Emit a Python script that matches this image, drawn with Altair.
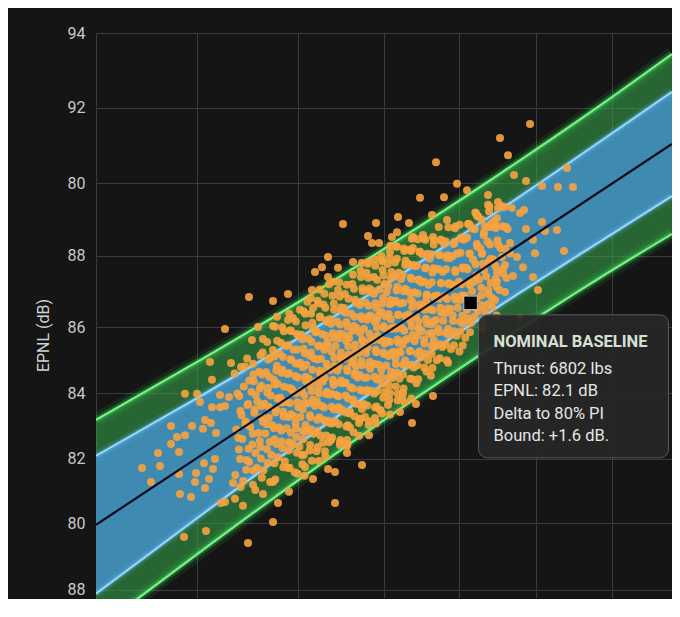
import altair as alt
import pandas as pd

# ---------------- axis texts / grid ----------------
y_tick_values = [94.0, 91.86, 89.71, 87.63, 85.6, 83.71, 81.83, 80.0, 78.09]
y_tick_labels = ["94", "92", "80", "88", "86", "84", "82", "80", "88"]
x_grid_values = [4180, 4887, 5594, 6196, 6721, 7260, 7792]
y_title = "EPNL (dB)"

# ---------------- prediction bands (dB) ----------------
band_thrust = [4180, 4908, 5608, 6308, 7008, 7708, 8212]
green_lo = [76.95, 79.17, 81.26, 83.26, 85.18, 87.01, 88.26]
blue_lo = [77.98, 80.20, 82.29, 84.29, 86.21, 88.04, 89.34]
blue_hi = [81.92, 83.62, 85.31, 87.09, 88.95, 90.90, 92.32]
green_hi = [82.95, 84.65, 86.34, 88.12, 89.98, 91.93, 93.40]

fit_thrust = [4180, 8212]
fit_epnl = [79.95, 90.83]

baseline_thrust = [6802]
baseline_epnl = [86.29]
tooltip_title = "NOMINAL BASELINE"
tooltip_lines = ["Thrust: 6802 lbs", "EPNL: 82.1 dB", "Delta to 80% PI", "Bound: +1.6 dB."]

# ---------------- scatter (thrust lbs, EPNL dB) ----------------
left_points = [
    (4565, 81.17), (4614, 82.0), (4628, 81.63), (4705, 82.77), (4761, 82.03), (4768, 80.83),
    (4845, 80.74), (4796, 79.6), (4950, 79.77), (4705, 82.26), (4747, 82.46), (4803, 82.51),
    (4852, 82.77), (4908, 83.46), (4929, 82.69), (4985, 82.86), (5020, 82.57), (4992, 83.31),
    (5048, 83.31), (4936, 81.71), (4999, 81.54), (4880, 81.43), (4873, 81.17), (4943, 81.0),
    (4971, 81.26), (5013, 81.83), (4761, 81.4), (5083, 80.6), (5153, 80.69), (5209, 80.49),
    (5139, 81.14), (5279, 81.09), (5349, 80.83), (5419, 81.17), (5454, 80.57), (5419, 80.03),
    (5244, 79.43), (5055, 80.57), (4803, 83.69), (4887, 83.69), (4992, 84.09), (4978, 84.6),
    (5125, 84.57), (5195, 84.46), (5272, 85.23), (5314, 85.6), (5349, 85.26), (5419, 85.63),
    (5447, 85.89), (5524, 85.8), (5083, 85.54), (5251, 86.46), (5419, 86.34), (5524, 86.54),
    (5111, 83.6), (5048, 83.66), (5083, 83.34), (4943, 82.94), (4502, 81.57),
]
lower_points = [
    (6042, 81.66), (5804, 81.54), (5853, 81.46), (5699, 81.26), (5531, 80.89), (5853, 80.57),
    (5937, 82.0), (5888, 82.23), (6091, 82.51), (6021, 82.49), (6308, 83.17), (6392, 82.86),
    (6420, 83.4), (6539, 83.63), (5538, 82.29), (5622, 81.94), (5524, 81.57), (5643, 81.6),
    (5769, 82.29), (5811, 82.31), (5937, 82.37), (6021, 82.86), (6063, 83.03), (6133, 83.0),
    (6168, 83.23), (6224, 83.37), (6238, 83.71), (6329, 83.71), (6042, 83.26), (5958, 83.17),
    (5818, 82.86), (5657, 82.66),
]
upper_points = [
    (5909, 88.54), (6140, 88.57), (6084, 88.2), (6112, 88.0), (6161, 88.0), (6294, 88.74),
    (6371, 88.57), (6287, 88.31), (6252, 88.17), (6532, 88.8), (6448, 89.29), (6616, 89.31),
    (6560, 90.31), (6707, 89.69), (6777, 89.51), (7008, 91.0), (7218, 91.4), (7064, 90.51),
    (7106, 89.94), (7190, 89.77), (7302, 89.63), (7414, 89.6), (7519, 89.6), (7477, 90.14),
    (6924, 88.46), (7176, 88.94), (5713, 87.17), (5762, 87.31), (5804, 87.6), (5874, 87.29),
    (5979, 87.46), (5692, 86.66), (5608, 86.09), (5559, 85.86), (5699, 86.14), (5804, 87.03),
    (6084, 87.46), (6182, 87.51), (6238, 87.74), (6399, 87.86), (6469, 88.23), (6539, 88.17),
    (6399, 88.17), (6637, 88.66),
]
right_points = [
    (6924, 89.37), (6994, 89.17), (6924, 89.09), (7148, 88.86), (6847, 88.77), (6987, 88.71),
    (6798, 88.51), (6903, 88.48), (6980, 88.43), (7050, 88.46), (7190, 88.4), (7302, 88.6),
    (7407, 88.37), (7323, 88.34), (7239, 88.09), (7078, 88.0), (6882, 87.69), (7022, 87.6),
    (7127, 87.6), (7253, 87.71), (7456, 87.77), (7169, 87.31), (7043, 87.37), (6987, 87.17),
    (7099, 87.06), (7239, 87.03), (7274, 86.66), (6987, 86.89), (6924, 86.66), (7043, 86.6),
    (6973, 86.37), (6952, 86.17), (7148, 85.86),
]
core_points = [
    (5155, 81.37), (5180, 82.10), (5162, 82.67), (5190, 83.20), (5170, 83.70), (5150, 84.27),
    (5210, 81.20), (5235, 81.80), (5204, 82.40), (5228, 82.90), (5245, 83.40), (5215, 83.90), (5238, 84.70),
    (5252, 81.74), (5275, 82.24), (5260, 82.74), (5290, 83.24), (5268, 83.74), (5282, 84.24), (5295, 80.94),
    (5305, 81.57), (5330, 82.17), (5318, 82.57), (5342, 83.02), (5310, 83.47), (5336, 83.92), (5322, 84.32), (5347, 84.87),
    (5352, 81.51), (5377, 82.11), (5365, 82.56), (5390, 83.01), (5358, 83.41), (5384, 83.86), (5371, 84.31), (5396, 84.71),
    (5408, 81.94), (5430, 82.39), (5415, 82.79), (5440, 83.24), (5402, 83.64), (5425, 84.09), (5446, 84.49), (5418, 84.94), (5435, 81.24),
    (5455, 81.88), (5478, 82.33), (5462, 82.73), (5490, 83.18), (5470, 83.58), (5452, 83.98), (5484, 84.38), (5466, 84.83), (5495, 85.48),
    (5502, 81.76), (5530, 82.31), (5515, 82.71), (5545, 83.11), (5508, 83.46), (5536, 83.86), (5520, 84.26), (5548, 84.66), (5511, 85.06), (5540, 85.51),
    (5558, 82.25), (5580, 82.70), (5566, 83.05), (5592, 83.45), (5552, 83.80), (5575, 84.20), (5597, 84.55), (5563, 84.95), (5586, 85.40), (5570, 81.45),
    (5604, 82.18), (5628, 82.63), (5612, 83.03), (5640, 83.43), (5620, 83.78), (5647, 84.18), (5608, 84.58), (5633, 84.98), (5616, 85.38), (5644, 85.98), (5625, 81.68),
    (5655, 82.62), (5680, 83.02), (5662, 83.42), (5690, 83.77), (5670, 84.12), (5652, 84.52), (5685, 84.87), (5667, 85.27), (5695, 85.72), (5675, 82.07), (5660, 86.32),
    (5703, 82.55), (5728, 82.95), (5712, 83.35), (5740, 83.70), (5720, 84.05), (5745, 84.35), (5708, 84.70), (5735, 85.05), (5716, 85.45), (5748, 85.90), (5724, 82.05), (5731, 86.35),
    (5752, 82.49), (5776, 82.94), (5760, 83.34), (5790, 83.69), (5768, 84.04), (5796, 84.39), (5755, 84.69), (5782, 85.04), (5764, 85.39), (5793, 85.79), (5772, 86.24), (5786, 81.89),
    (5806, 82.92), (5830, 83.32), (5814, 83.67), (5842, 84.02), (5822, 84.37), (5848, 84.72), (5803, 85.07), (5836, 85.42), (5818, 85.82), (5845, 86.27), (5826, 82.37), (5811, 86.82),
    (5853, 82.91), (5878, 83.31), (5861, 83.66), (5892, 84.01), (5870, 84.36), (5897, 84.71), (5856, 85.06), (5884, 85.41), (5866, 85.76), (5895, 86.16), (5874, 86.66), (5888, 82.31),
    (5902, 83.24), (5927, 83.64), (5910, 83.99), (5940, 84.34), (5918, 84.69), (5946, 85.04), (5906, 85.39), (5933, 85.74), (5915, 86.14), (5943, 82.79), (5922, 86.54), (5937, 82.19),
    (5955, 83.13), (5980, 83.53), (5962, 83.88), (5990, 84.23), (5970, 84.58), (5996, 84.93), (5952, 85.28), (5985, 85.63), (5966, 85.98), (5993, 86.38), (5974, 86.83), (5958, 82.73),
    (6004, 83.41), (6028, 83.81), (6012, 84.16), (6042, 84.51), (6020, 84.86), (6047, 85.21), (6008, 85.56), (6035, 85.91), (6016, 86.31), (6045, 86.71), (6024, 82.96), (6032, 87.21),
    (6053, 83.40), (6078, 83.80), (6061, 84.15), (6091, 84.50), (6070, 84.85), (6097, 85.20), (6056, 85.55), (6084, 85.90), (6066, 86.30), (6094, 86.70), (6074, 87.15), (6088, 82.80),
    (6105, 83.78), (6129, 84.18), (6112, 84.53), (6142, 84.88), (6121, 85.23), (6147, 85.58), (6102, 85.93), (6136, 86.28), (6118, 86.63), (6144, 83.33), (6125, 87.03), (6132, 87.53),
    (6152, 83.77), (6177, 84.17), (6160, 84.52), (6190, 84.87), (6168, 85.22), (6196, 85.57), (6155, 85.92), (6183, 86.27), (6164, 86.67), (6193, 87.07), (6172, 83.22), (6186, 87.47),
    (6204, 83.75), (6228, 84.15), (6211, 84.50), (6241, 84.85), (6220, 85.20), (6247, 85.55), (6207, 85.90), (6234, 86.25), (6216, 86.60), (6244, 87.00), (6223, 87.40), (6238, 83.10),
    (6253, 84.14), (6279, 84.54), (6261, 84.89), (6290, 85.24), (6269, 85.59), (6296, 85.94), (6256, 86.29), (6284, 86.64), (6265, 87.04), (6293, 83.69), (6273, 87.44), (6287, 87.89),
    (6304, 84.12), (6329, 84.52), (6312, 84.87), (6341, 85.22), (6320, 85.57), (6347, 85.92), (6308, 86.27), (6335, 86.62), (6316, 86.97), (6344, 87.37), (6324, 83.57), (6338, 87.77),
    (6352, 84.51), (6378, 84.91), (6360, 85.26), (6391, 85.61), (6369, 85.96), (6396, 86.31), (6356, 86.66), (6383, 87.01), (6365, 87.41), (6393, 84.11), (6373, 87.81), (6387, 83.56),
    (6404, 84.44), (6428, 84.84), (6411, 85.19), (6441, 85.54), (6420, 85.89), (6447, 86.24), (6407, 86.59), (6434, 86.94), (6416, 87.34), (6444, 87.74), (6423, 83.99),
    (6453, 84.73), (6479, 85.13), (6461, 85.48), (6490, 85.83), (6469, 86.18), (6496, 86.53), (6456, 86.88), (6484, 87.28), (6465, 87.68), (6493, 84.33), (6473, 88.13),
    (6504, 84.66), (6529, 85.06), (6512, 85.41), (6541, 85.76), (6520, 86.11), (6547, 86.46), (6508, 86.81), (6535, 87.16), (6516, 87.56), (6544, 87.96), (6524, 84.21),
    (6552, 85.05), (6578, 85.45), (6560, 85.80), (6591, 86.15), (6569, 86.50), (6596, 86.85), (6556, 87.25), (6583, 87.65), (6565, 84.65), (6593, 88.10),
    (6604, 85.03), (6628, 85.43), (6611, 85.78), (6641, 86.13), (6620, 86.48), (6647, 86.83), (6607, 87.18), (6634, 87.58), (6616, 87.98), (6644, 84.58),
    (6653, 85.37), (6679, 85.77), (6661, 86.12), (6690, 86.47), (6669, 86.82), (6696, 87.17), (6656, 87.57), (6684, 87.97), (6665, 84.97), (6693, 88.42),
    (6704, 85.35), (6729, 85.75), (6712, 86.15), (6741, 86.50), (6720, 86.90), (6747, 87.30), (6708, 87.70), (6735, 88.15), (6724, 84.90),
    (6753, 85.69), (6778, 86.09), (6761, 86.49), (6790, 86.89), (6769, 87.29), (6796, 87.69), (6756, 88.09), (6784, 88.54), (6765, 85.29),
    (6806, 85.72), (6829, 86.17), (6812, 86.62), (6841, 87.07), (6820, 87.52), (6846, 87.97), (6815, 88.42), (6835, 88.87),
    (6853, 86.06), (6878, 86.51), (6861, 86.96), (6890, 87.41), (6869, 87.86), (6896, 88.31), (6856, 88.76), (6884, 85.56),
    (6904, 86.04), (6928, 86.54), (6911, 87.04), (6941, 87.54), (6920, 88.04), (6946, 88.54), (6934, 89.04),
    (6953, 86.43), (6978, 86.98), (6961, 87.53), (6990, 88.08), (6969, 88.63), (6985, 85.93),
    (7004, 86.66), (7029, 87.26), (7012, 87.86), (7041, 88.46), (7020, 89.06),
    (7053, 87.00), (7078, 87.70), (7061, 88.40), (7090, 89.00),
]
core_points_b = [
    (5188, 81.83), (5176, 82.43), (5199, 83.08), (5183, 83.63), (5192, 81.03),
    (5231, 81.52), (5248, 82.12), (5226, 82.82), (5240, 83.37), (5253, 84.07), (5222, 84.47),
    (5281, 81.50), (5296, 82.00), (5277, 82.55), (5288, 83.15), (5299, 83.65), (5284, 84.05), (5279, 84.55),
    (5334, 81.84), (5327, 82.34), (5349, 82.89), (5338, 83.34), (5326, 83.84), (5344, 84.24), (5331, 84.79), (5341, 81.29),
    (5381, 81.72), (5397, 82.32), (5376, 82.82), (5389, 83.32), (5379, 83.72), (5394, 84.17), (5386, 84.67), (5378, 85.17), (5399, 81.17),
    (5429, 81.71), (5444, 82.26), (5426, 82.71), (5437, 83.16), (5449, 83.56), (5431, 83.96), (5442, 84.36), (5427, 84.76), (5448, 85.21), (5433, 85.61),
    (5486, 82.14), (5477, 82.64), (5493, 83.04), (5481, 83.44), (5497, 83.89), (5479, 84.29), (5489, 84.74), (5476, 85.14), (5491, 81.59), (5483, 85.59),
    (5529, 82.08), (5544, 82.58), (5527, 83.03), (5538, 83.43), (5549, 83.83), (5531, 84.28), (5542, 84.68), (5526, 85.08), (5547, 85.48), (5535, 81.58), (5533, 85.98),
    (5583, 82.46), (5577, 82.86), (5596, 83.31), (5581, 83.71), (5594, 84.16), (5578, 84.56), (5589, 84.96), (5598, 85.36), (5585, 82.01), (5579, 85.76), (5591, 81.41),
    (5631, 82.40), (5646, 82.80), (5627, 83.25), (5638, 83.65), (5649, 84.05), (5629, 84.45), (5642, 84.85), (5626, 85.25), (5647, 85.65), (5635, 81.95), (5633, 86.05), (5640, 81.35),
    (5684, 82.68), (5677, 83.08), (5696, 83.53), (5681, 83.93), (5694, 84.38), (5678, 84.78), (5689, 85.18), (5698, 85.58), (5686, 85.98), (5679, 82.23), (5691, 81.78), (5683, 86.43),
    (5729, 82.62), (5744, 83.02), (5727, 83.47), (5738, 83.87), (5749, 84.27), (5731, 84.67), (5742, 85.07), (5726, 85.47), (5747, 85.87), (5735, 86.27), (5733, 82.17), (5740, 81.77), (5746, 86.67),
    (5784, 82.90), (5777, 83.30), (5796, 83.75), (5781, 84.15), (5794, 84.55), (5778, 84.95), (5789, 85.35), (5798, 85.75), (5786, 86.15), (5779, 86.55), (5791, 82.50), (5783, 82.05), (5799, 85.15),
    (5831, 82.84), (5846, 83.24), (5827, 83.69), (5838, 84.09), (5849, 84.49), (5829, 84.89), (5842, 85.29), (5826, 85.69), (5847, 86.09), (5835, 86.49), (5833, 82.44), (5840, 86.89), (5844, 83.94),
    (5884, 83.22), (5877, 83.62), (5896, 84.07), (5881, 84.47), (5894, 84.87), (5878, 85.27), (5889, 85.67), (5898, 86.07), (5886, 86.47), (5879, 82.82), (5891, 82.37), (5883, 86.87), (5899, 84.67),
    (5929, 83.16), (5944, 83.56), (5927, 84.01), (5938, 84.41), (5949, 84.81), (5931, 85.21), (5942, 85.61), (5926, 86.01), (5947, 86.41), (5935, 86.81), (5933, 82.76), (5940, 82.26), (5946, 85.36),
    (5984, 83.44), (5977, 83.84), (5996, 84.29), (5981, 84.69), (5994, 85.09), (5978, 85.49), (5989, 85.89), (5998, 86.29), (5986, 86.69), (5979, 87.09), (5991, 83.04), (5983, 82.59), (5999, 84.49),
    (6031, 83.38), (6046, 83.78), (6027, 84.23), (6038, 84.63), (6049, 85.03), (6029, 85.43), (6042, 85.83), (6026, 86.23), (6047, 86.63), (6035, 87.03), (6033, 82.98), (6040, 87.43), (6044, 85.23),
    (6084, 83.76), (6077, 84.16), (6096, 84.61), (6081, 85.01), (6094, 85.41), (6078, 85.81), (6089, 86.21), (6098, 86.61), (6086, 87.01), (6079, 83.36), (6091, 82.91), (6083, 87.41), (6099, 84.41),
    (6129, 83.70), (6144, 84.10), (6127, 84.55), (6138, 84.95), (6149, 85.35), (6131, 85.75), (6142, 86.15), (6126, 86.55), (6147, 86.95), (6135, 87.35), (6133, 83.30), (6140, 82.85), (6146, 85.80),
    (6184, 83.98), (6177, 84.38), (6196, 84.83), (6181, 85.23), (6194, 85.63), (6178, 86.03), (6189, 86.43), (6198, 86.83), (6186, 87.23), (6179, 87.63), (6191, 83.58), (6183, 83.13), (6199, 85.13),
    (6231, 83.92), (6246, 84.32), (6227, 84.77), (6238, 85.17), (6249, 85.57), (6229, 85.97), (6242, 86.37), (6226, 86.77), (6247, 87.17), (6235, 87.57), (6233, 83.52), (6240, 87.92), (6244, 85.82),
    (6284, 84.30), (6277, 84.70), (6296, 85.15), (6281, 85.55), (6294, 85.95), (6278, 86.35), (6289, 86.75), (6298, 87.15), (6286, 87.55), (6279, 83.90), (6291, 83.50), (6283, 87.90), (6299, 84.90),
    (6329, 84.24), (6344, 84.64), (6327, 85.09), (6338, 85.49), (6349, 85.89), (6331, 86.29), (6342, 86.69), (6326, 87.09), (6347, 87.49), (6335, 87.84), (6333, 83.84), (6340, 83.44),
    (6384, 84.52), (6377, 84.92), (6396, 85.37), (6381, 85.77), (6394, 86.17), (6378, 86.57), (6389, 86.97), (6398, 87.37), (6386, 87.77), (6379, 84.12), (6391, 88.12), (6383, 86.37),
    (6429, 84.51), (6444, 84.91), (6427, 85.36), (6438, 85.76), (6449, 86.16), (6431, 86.56), (6442, 86.96), (6426, 87.36), (6447, 87.76), (6435, 84.11), (6433, 88.11), (6440, 85.56),
    (6484, 84.84), (6477, 85.24), (6496, 85.69), (6481, 86.09), (6494, 86.49), (6478, 86.89), (6489, 87.29), (6498, 87.69), (6486, 88.09), (6479, 84.44), (6491, 86.34),
    (6529, 84.83), (6544, 85.23), (6527, 85.68), (6538, 86.08), (6549, 86.48), (6531, 86.88), (6542, 87.28), (6526, 87.68), (6547, 88.08), (6535, 84.43), (6533, 85.43),
    (6584, 85.11), (6577, 85.56), (6596, 86.01), (6581, 86.41), (6594, 86.86), (6578, 87.26), (6589, 87.66), (6598, 88.06), (6586, 84.71), (6579, 88.46),
    (6629, 85.10), (6644, 85.55), (6627, 86.00), (6638, 86.40), (6649, 86.85), (6631, 87.25), (6642, 87.65), (6626, 88.05), (6647, 88.45), (6635, 84.65),
    (6684, 85.48), (6677, 85.93), (6696, 86.38), (6681, 86.78), (6694, 87.23), (6678, 87.63), (6689, 88.03), (6698, 88.48), (6686, 85.08),
    (6729, 85.47), (6744, 85.92), (6727, 86.37), (6738, 86.82), (6749, 87.27), (6731, 87.72), (6742, 88.12), (6726, 88.52), (6747, 85.07),
    (6784, 85.85), (6777, 86.35), (6796, 86.80), (6781, 87.25), (6794, 87.70), (6778, 88.15), (6789, 88.55), (6798, 85.45),
    (6829, 85.89), (6844, 86.39), (6827, 86.89), (6838, 87.39), (6849, 87.89), (6831, 88.39), (6842, 88.84),
    (6884, 86.22), (6877, 86.72), (6896, 87.22), (6881, 87.72), (6894, 88.22), (6878, 88.67), (6889, 85.77),
    (6929, 86.26), (6944, 86.86), (6927, 87.46), (6938, 87.96), (6949, 88.46), (6931, 88.91),
    (6984, 86.74), (6977, 87.34), (6996, 87.94), (6981, 88.49), (6994, 88.99),
    (7029, 87.13), (7044, 87.83), (7027, 88.48), (7038, 89.03),
]

# ---------------- data frames ----------------
all_pts = left_points + lower_points + upper_points + right_points + core_points + core_points_b
scatter_df = pd.DataFrame(all_pts, columns=["thrust", "epnl"])
band_df = pd.DataFrame({"thrust": band_thrust, "green_lo": green_lo, "blue_lo": blue_lo,
                        "blue_hi": blue_hi, "green_hi": green_hi})
fit_df = pd.DataFrame({"thrust": fit_thrust, "epnl": fit_epnl})
base_df = pd.DataFrame({"thrust": baseline_thrust, "epnl": baseline_epnl})

# label expression reproducing the printed tick labels
parts = []
for i, (v, lab) in enumerate(zip(y_tick_values, y_tick_labels)):
    if i < len(y_tick_values) - 1:
        mid = (v + y_tick_values[i + 1]) / 2
        parts.append(f"datum.value > {mid:.3f} ? '{lab}' : ")
    else:
        parts.append(f"'{lab}'")
label_expr = "".join(parts)

GRID = "#3b3b3b"
x_scale = alt.Scale(domain=[4180, 8212], nice=False, zero=False)
y_scale = alt.Scale(domain=[77.829, 94.0], nice=False, zero=False)
x_axis = alt.Axis(values=x_grid_values, labels=False, ticks=False, domain=False, grid=True,
                  gridColor=GRID, gridWidth=1, title=None)
y_axis = alt.Axis(values=y_tick_values, labelExpr=label_expr, ticks=False, tickSize=0, domain=False,
                  grid=True, gridColor=GRID, gridWidth=1, labelFont="Roboto", labelFontSize=16,
                  labelColor="#c9c9c9", labelPadding=11, labelFlush=False, labelOverlap=False,
                  title=y_title, titleFont="Roboto", titleFontSize=16, titleFontWeight="normal",
                  titleColor="#d2d2d2", titleAngle=270, titleAlign="center", titleBaseline="middle",
                  titleX=-53, titleY=302)


def X(field="thrust"):
    return alt.X(f"{field}:Q", scale=x_scale, axis=x_axis)


def Y(field):
    return alt.Y(f"{field}:Q", scale=y_scale, axis=y_axis)


layers = []
layers.append(alt.Chart(band_df).mark_area(color="#36a84b", opacity=0.55, interpolate="monotone", clip=True)
              .encode(x=X(), y=Y("green_lo"), y2=alt.Y2("green_hi:Q")))
for fld in ["green_lo", "green_hi"]:
    for w, op, col in [(14, 0.10, "#2fe050"), (7, 0.25, "#3fe05c"), (2.4, 1.0, "#74f083")]:
        layers.append(alt.Chart(band_df).mark_line(color=col, strokeWidth=w, opacity=op,
                                                   interpolate="monotone", clip=True)
                      .encode(x=X(), y=Y(fld)))
layers.append(alt.Chart(band_df).mark_area(color="#4490c8", opacity=0.85, interpolate="monotone", clip=True)
              .encode(x=X(), y=Y("blue_lo"), y2=alt.Y2("blue_hi:Q")))
for fld in ["blue_lo", "blue_hi"]:
    for w, op, col in [(10, 0.12, "#5ab8ff"), (5, 0.28, "#6cc4ff"), (2, 1.0, "#9ad8ff")]:
        layers.append(alt.Chart(band_df).mark_line(color=col, strokeWidth=w, opacity=op,
                                                   interpolate="monotone", clip=True)
                      .encode(x=X(), y=Y(fld)))

layers.append(alt.Chart(scatter_df).mark_circle(size=64, color="#f6a240", opacity=0.9, clip=True)
              .encode(x=X(), y=Y("epnl")))
layers.append(alt.Chart(fit_df).mark_line(color="#0a0a1c", strokeWidth=2.2, clip=True)
              .encode(x=X(), y=Y("epnl")))
layers.append(alt.Chart(base_df).mark_point(shape="square", size=180, filled=True, color="#000000",
                                            stroke="#d8d8d8", strokeWidth=0.8, opacity=1)
              .encode(x=X(), y=Y("epnl")))
layers.append(alt.Chart(base_df).mark_rect(fill="#272727", fillOpacity=0.93, stroke="#5c5c5c",
                                           strokeWidth=1, cornerRadius=9, xOffset=8, x2Offset=198,
                                           yOffset=12, y2Offset=155)
              .encode(x=X(), x2=alt.X2("thrust:Q"), y=Y("epnl"), y2=alt.Y2("epnl:Q")))
layers.append(alt.Chart(base_df).mark_text(text=tooltip_title, align="left", baseline="alphabetic",
                                           dx=23, dy=44, font="Roboto", fontSize=16.5,
                                           fontWeight="bold", color="#d7e0d5")
              .encode(x=X(), y=Y("epnl")))
layers.append(alt.Chart(base_df).mark_text(text=tooltip_lines, align="left", baseline="alphabetic",
                                           dx=23, dy=71, lineHeight=22.5, font="Roboto",
                                           fontSize=16.5, color="#e6e6e6")
              .encode(x=X(), y=Y("epnl")))

chart = alt.layer(*layers).properties(
    width=576, height=566, background="#151515",
    padding={"left": 88, "top": 25, "right": 0, "bottom": 0},
    autosize=alt.AutoSizeParams(type="none"),
).configure_view(strokeWidth=0)

chart.save("out.html", embed_options={"renderer": "svg", "actions": False})
